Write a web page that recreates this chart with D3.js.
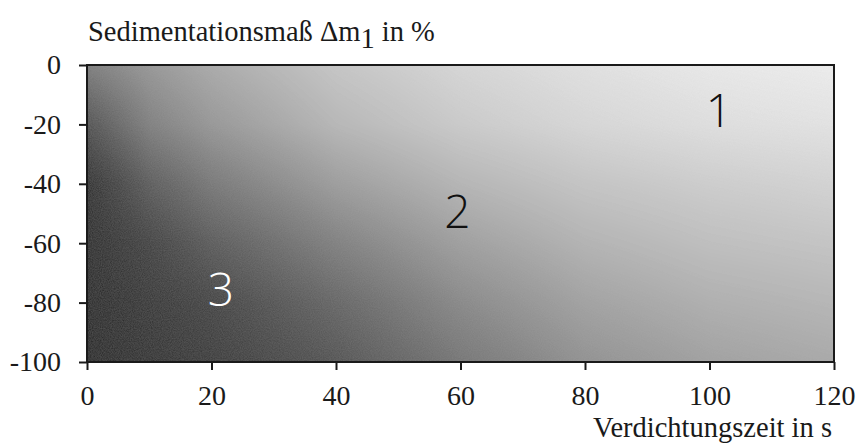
<!DOCTYPE html>
<html>
<head>
<meta charset="utf-8">
<script src="https://cdn.jsdelivr.net/npm/d3@7"></script>
<style>
  body { margin: 0; background: #fff; }
  svg text { font-family: "Liberation Serif", serif; fill: #1a1a1a; }
</style>
</head>
<body>
<svg id="chart" width="857" height="446"></svg>
<script>
    'use strict';

    // sample grid: grey level (0..255) at each (time, sedimentation)
    var gridTimes = [0, 10, 20, 40, 60, 80, 100, 120];
    var gridLevels = [0, -20, -40, -60, -80, -100];
    var gridGrey = [
        [125, 150, 170, 198, 215, 226, 234, 238],
        [78, 126, 150, 183, 203, 216, 224, 228],
        [38, 88, 118, 156, 181, 197, 206, 212],
        [33, 58, 86, 126, 158, 179, 191, 197],
        [30, 46, 60, 98, 135, 161, 175, 182],
        [27, 40, 50, 78, 115, 144, 160, 168]
    ];

    var xTicks = [0, 20, 40, 60, 80, 100, 120];
    var yTicks = [0, -20, -40, -60, -80, -100];

    var regionNames = ['1', '2', '3'];
    var regionTime = [101.5, 59.5, 21.5];
    var regionLevel = [-21, -55, -81];
    var regionColor = ['#111', '#111', '#fff'];

    var margin = { left: 87, top: 65, right: 23, bottom: 84 },
        width = 857 - margin.left - margin.right,
        height = 446 - margin.top - margin.bottom;

    var svg = d3.select('#chart');

    var x = d3.scaleLinear().domain([0, 120]).range([0, width]);
    var y = d3.scaleLinear().domain([-100, 0]).range([height, 0]);

    var g = svg.append('g')
        .attr('transform', 'translate(' + margin.left + ',' + margin.top + ')');

    // shaded field: each grid row becomes a piecewise scale along time,
    // rows are then blended along the sedimentation axis
    var rowScales = gridGrey.map(function (row) {
        return d3.scaleLinear().domain(gridTimes).range(row).clamp(true);
    });
    var rowIndex = d3.scaleLinear().domain(gridLevels).range(d3.range(gridLevels.length)).clamp(true);

    var canvas = document.createElement('canvas');
    canvas.width = Math.round(width);
    canvas.height = Math.round(height);
    var ctx = canvas.getContext('2d');
    var img = ctx.createImageData(canvas.width, canvas.height);
    for (var py = 0; py < canvas.height; py += 1) {
        var r = rowIndex(y.invert(py + 0.5));
        var r0 = Math.floor(r), r1 = Math.min(r0 + 1, gridLevels.length - 1), f = r - r0;
        for (var px = 0; px < canvas.width; px += 1) {
            var t = x.invert(px + 0.5);
            var v = rowScales[r0](t) * (1 - f) + rowScales[r1](t) * f;
            var k = (py * canvas.width + px) * 4;
            img.data[k] = img.data[k + 1] = img.data[k + 2] = Math.round(v);
            img.data[k + 3] = 255;
        }
    }
    ctx.putImageData(img, 0, 0);

    var defs = svg.append('defs');
    var grain = defs.append('filter').attr('id', 'grain')
        .attr('x', 0).attr('y', 0).attr('width', 1).attr('height', 1);
    grain.append('feTurbulence')
        .attr('type', 'fractalNoise').attr('baseFrequency', 0.9)
        .attr('numOctaves', 2).attr('seed', 3).attr('result', 'noise');
    grain.append('feColorMatrix').attr('in', 'noise').attr('type', 'matrix')
        .attr('values', '0 0 0 0 0.5  0 0 0 0 0.5  0 0 0 0 0.5  0 0 0 0.14 0')
        .attr('result', 'tint');
    grain.append('feComposite').attr('in', 'tint').attr('in2', 'SourceGraphic').attr('operator', 'over');

    g.append('image')
        .attr('x', 0).attr('y', 0)
        .attr('width', width).attr('height', height)
        .attr('preserveAspectRatio', 'none')
        .attr('href', canvas.toDataURL())
        .attr('filter', 'url(#grain)');

    g.append('rect')
        .attr('width', width).attr('height', height)
        .attr('fill', 'none')
        .attr('stroke', '#1a1a1a')
        .attr('stroke-width', 2);

    // axes
    var xAxis = g.append('g')
        .attr('transform', 'translate(0,' + height + ')')
        .call(d3.axisBottom(x).tickValues(xTicks).tickSize(8).tickPadding(15).tickSizeOuter(0)
            .tickFormat(function (d) { return String(d); }));
    var yAxis = g.append('g')
        .call(d3.axisLeft(y).tickValues(yTicks).tickSize(8).tickPadding(18).tickSizeOuter(0)
            .tickFormat(function (d) { return String(d); }));

    [xAxis, yAxis].forEach(function (a) {
        a.select('.domain').remove();
        a.selectAll('line').attr('stroke', '#1a1a1a').attr('stroke-width', 2);
        a.selectAll('text')
            .style('font-family', '"Liberation Serif", serif')
            .style('font-size', '28px')
            .attr('fill', '#1a1a1a');
    });

    // region labels
    g.selectAll('.region')
        .data(regionNames)
        .enter().append('text')
        .attr('class', 'region')
        .attr('x', function (d, i) { return x(regionTime[i]); })
        .attr('y', function (d, i) { return y(regionLevel[i]); })
        .attr('text-anchor', 'middle')
        .style('font-family', '"Open Sans", sans-serif')
        .style('font-weight', 300)
        .style('font-size', '46px')
        .style('fill', function (d, i) { return regionColor[i]; })
        .text(function (d) { return d; });

    // titles
    var title = svg.append('text')
        .attr('x', 88).attr('y', 41)
        .style('font-size', '28.5px');
    title.append('tspan').text('Sedimentationsmaß Δm');
    title.append('tspan').attr('dy', 7).text('1');
    title.append('tspan').attr('dy', -7).text(' in %');

    svg.append('text')
        .attr('x', 832)
        .attr('y', 437)
        .attr('text-anchor', 'end')
        .style('font-size', '28.5px')
        .text('Verdichtungszeit in s');
</script>
</body>
</html>
